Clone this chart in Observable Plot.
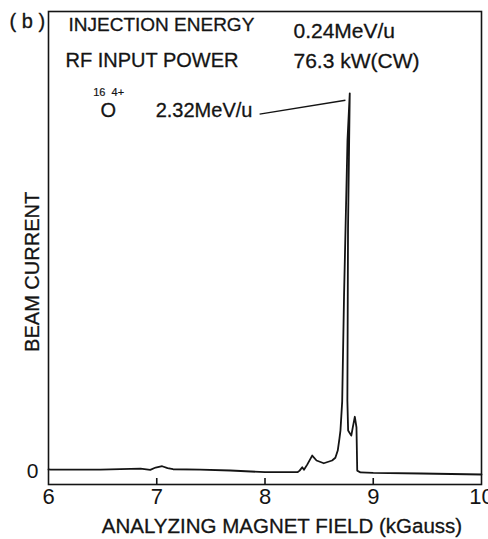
<!DOCTYPE html>
<html><head><meta charset="utf-8">
<script src="https://cdn.jsdelivr.net/npm/d3@7"></script>
<script src="https://cdn.jsdelivr.net/npm/@observablehq/plot@0.6"></script>
<style>
html,body{margin:0;padding:0;background:#fff;}
#chart svg{display:block;overflow:visible}
</style></head><body><div id="chart"></div>
<script>
// Analyzing magnet field (kGauss) and beam current (arbitrary units, 0 = baseline label)
const fieldKG = [6.00, 6.02, 6.48, 6.85, 6.94, 6.99, 7.05, 7.10, 7.15, 7.40, 7.68, 8.00, 8.30, 8.32, 8.344, 8.36, 8.39, 8.436, 8.476, 8.543, 8.62, 8.65, 8.672, 8.688, 8.697, 8.713, 8.73, 8.744, 8.762, 8.783, 8.767, 8.761, 8.768, 8.797, 8.811, 8.83, 8.845, 8.852, 8.882, 9.00, 9.44, 10.0];
const beamCurrent = [0.45, 0.43, 0.43, 0.65, 0.37, 0.87, 1.15, 0.76, 0.50, 0.43, 0.22, -0.15, -0.15, 0.20, 0.93, 0.37, 1.5, 3.47, 2.4, 1.8, 2.4, 3.0, 4.56, 7.2, 8.9, 15.2, 38, 52.9, 72, 82.2, 52.9, 15.4, 8.9, 7.8, 9.6, 11.9, 9.6, 0.2, -0.2, -0.3, -0.43, -0.65];

const xTickValues = [6, 7, 8, 9, 10];
const innerTickValues = [7, 8, 9];
const yTickValues = [0];

const panelLabel = "( b )";
const yTitle = "BEAM CURRENT";
const xTitle = "ANALYZING MAGNET FIELD (kGauss)";
const conditionNames = ["INJECTION ENERGY", "RF INPUT POWER"];
const conditionValues = ["0.24MeV/u", "76.3 kW(CW)"];
const ionMass = "16", ionSymbol = "O", ionCharge = "4+", ionEnergy = "2.32MeV/u";
const peakField = 8.783, peakCurrent = 82.2;

const data = fieldKG.map((x, i) => ({x, y: beamCurrent[i]}));
const ink = "#141414";
const font = "'Liberation Sans', Arial, sans-serif";
const txt = {text: d => d, fill: ink, stroke: ink, strokeWidth: 0.3};

const chart = Plot.plot({
  width: 488, height: 539,
  marginLeft: 48, marginRight: 7, marginTop: 11, marginBottom: 55,
  x: {domain: [6, 10]},
  y: {domain: [-2.82, 100]},
  style: {fontFamily: font, color: ink, background: "#fff"},
  marks: [
    Plot.frame({stroke: ink, strokeWidth: 1.6}),
    Plot.ruleX(innerTickValues, {insetTop: 467, stroke: ink, strokeWidth: 1.6}),
    Plot.axisX({ticks: xTickValues, tickSize: 0, tickPadding: 4, fontSize: 22, label: null, tickFormat: d => String(d), stroke: ink, strokeWidth: 0.3}),
    Plot.axisY({ticks: yTickValues, tickSize: 0, tickPadding: 10, fontSize: 21, label: null, tickFormat: d => String(d), stroke: ink, strokeWidth: 0.3}),
    Plot.line(data, {x: "x", y: "y", stroke: ink, strokeWidth: 1.8, strokeLinejoin: "round"}),
    // leader line from the ion label to the peak
    Plot.link([0], {x1: 7.95, y1: 77.7, x2: peakField - 0.04, y2: 80.7, stroke: ink, strokeWidth: 1.4}),
    Plot.text([conditionNames[0]], {...txt, x: 6.185, y: 97.0, textAnchor: "start", fontSize: 19}),
    Plot.text([conditionNames[1]], {...txt, x: 6.157, y: 89.4, textAnchor: "start", fontSize: 20}),
    Plot.text([conditionValues[0]], {...txt, x: 8.263, y: 95.7, textAnchor: "start", fontSize: 21}),
    Plot.text([conditionValues[1]], {...txt, x: 8.263, y: 89.1, textAnchor: "start", fontSize: 21}),
    Plot.text([ionMass], {...txt, x: 6.47, y: 82.3, fontSize: 11, strokeWidth: 0.2}),
    Plot.text([ionSymbol], {...txt, x: 6.553, y: 78.5, fontSize: 20}),
    Plot.text([ionCharge], {...txt, x: 6.64, y: 82.3, fontSize: 11, strokeWidth: 0.2}),
    Plot.text([ionEnergy], {...txt, x: 6.99, y: 78.4, textAnchor: "start", fontSize: 20}),
    Plot.text([panelLabel], {...txt, frameAnchor: "left", y: 97.8, dx: -39, textAnchor: "start", fontSize: 20}),
    Plot.text([yTitle], {...txt, frameAnchor: "left", y: 43.4, dx: -16, rotate: -90, textAnchor: "middle", fontSize: 20}),
    Plot.text([xTitle], {...txt, frameAnchor: "bottom", dx: 17, dy: 42, lineAnchor: "middle", fontSize: 20.5})
  ]
});
document.getElementById("chart").appendChild(chart);
</script></body></html>
